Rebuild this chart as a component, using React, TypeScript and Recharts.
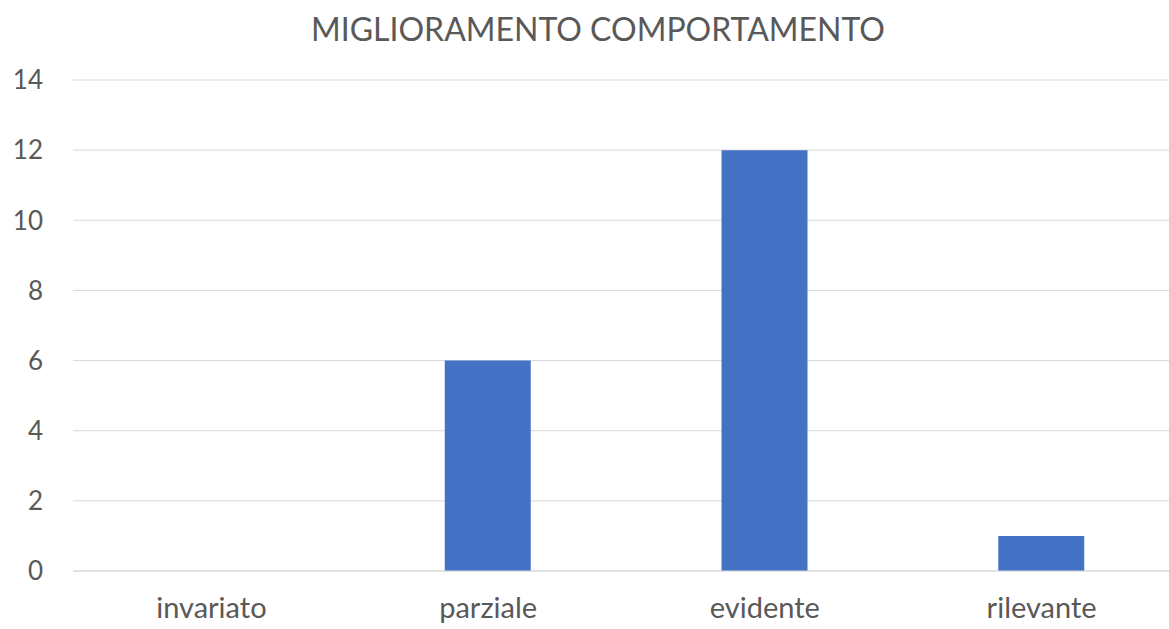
import { Bar, BarChart, CartesianGrid, XAxis, YAxis } from "recharts";

const categories = ["invariato", "parziale", "evidente", "rilevante"];
const values = [0, 6, 12, 1];
const yTicks = [0, 2, 4, 6, 8, 10, 12, 14];

const BAR_BLUE = "#4472C4";
const TEXT_GREY = "#595959";
const GRID_GREY = "#D9D9D9";
const FONT = "Lato, 'Open Sans', sans-serif";

const chartData = categories.map((name, i) => ({ name, value: values[i] }));

export default function App() {
  return (
    <div
      style={{
        position: "fixed",
        left: 0,
        top: 0,
        width: 1169,
        height: 629,
        overflow: "hidden",
        background: "#fff",
        fontFamily: FONT,
      }}
    >
      <div
        style={{
          position: "absolute",
          top: 9,
          left: 0,
          width: 1169,
          textAlign: "center",
          fontSize: 32,
          color: TEXT_GREY,
          paddingLeft: 27,
          boxSizing: "border-box",
        }}
      >
        MIGLIORAMENTO COMPORTAMENTO
      </div>
      <BarChart
        width={1180}
        height={629}
        data={chartData}
        margin={{ top: 80, right: 0, bottom: 0, left: 0 }}
      >
        <CartesianGrid vertical={false} stroke={GRID_GREY} />
        <XAxis
          dataKey="name"
          height={58}
          axisLine={{ stroke: GRID_GREY }}
          tickLine={false}
          tick={{ fill: TEXT_GREY, fontSize: 29, fontFamily: FONT }}
          tickMargin={20}
        />
        <YAxis
          width={73}
          domain={[0, 14]}
          ticks={yTicks}
          axisLine={false}
          tickLine={false}
          tick={{ fill: TEXT_GREY, fontSize: 26, fontFamily: FONT }}
          tickMargin={24}
        />
        <Bar dataKey="value" fill={BAR_BLUE} barSize={86} isAnimationActive={false} />
      </BarChart>
    </div>
  );
}
